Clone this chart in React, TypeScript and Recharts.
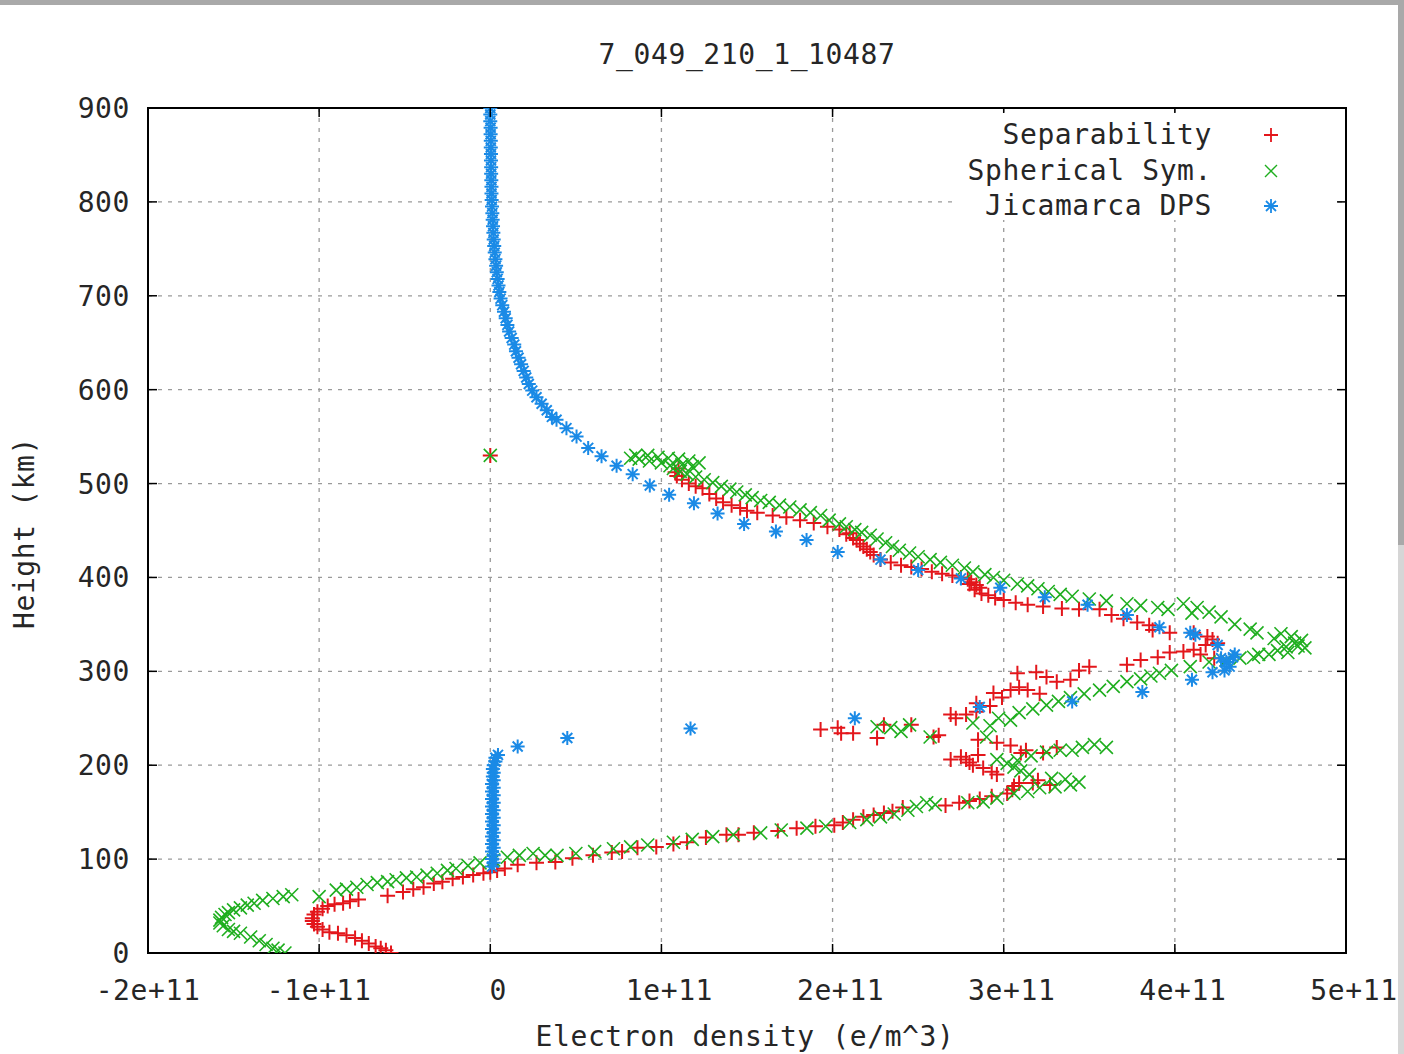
import React from 'react';
import {
  CartesianGrid,
  Legend,
  ReferenceArea,
  Scatter,
  ScatterChart,
  XAxis,
  YAxis,
} from 'recharts';

// electron density values are in units of 1e11 e/m^3, heights in km
const title = '7_049_210_1_10487';
const xLabel = 'Electron density (e/m^3)';
const yLabel = 'Height (km)';
const seriesNames = ['Separability', 'Spherical Sym.', 'Jicamarca DPS'];
const xTicks = [-2, -1, 0, 1, 2, 3, 4, 5];
const yTicks = [0, 100, 200, 300, 400, 500, 600, 700, 800, 900];

const separability: [number, number][] = [
  [-0.58, 0], [-0.61, 3], [-0.64, 5], [-0.67, 7], [-0.71, 10], [-0.75, 13], [-0.79, 16],
  [-0.84, 19], [-0.89, 21], [-0.94, 22], [-0.98, 25], [-1.01, 28], [-1.03, 31], [-1.04, 34],
  [-1.04, 37], [-1.03, 41], [-1.01, 44], [-0.98, 47], [-0.95, 50], [-0.91, 52], [-0.86, 53],
  [-0.82, 55], [-0.77, 57],
  [-0.6, 61], [-0.51, 65], [-0.45, 68], [-0.39, 70], [-0.33, 74], [-0.28, 76], [-0.22, 79],
  [-0.16, 81], [-0.1, 83], [-0.04, 85], [0.0, 86], [0.04, 88], [0.085, 90], [0.16, 94],
  [0.27, 96], [0.38, 97], [0.48, 101], [0.6, 104], [0.71, 107], [0.77, 108], [0.86, 112],
  [0.97, 113], [1.07, 116], [1.15, 118], [1.26, 123], [1.38, 126], [1.45, 126], [1.54, 128],
  [1.68, 130], [1.79, 133], [1.9, 135], [2.01, 136], [2.06, 139], [2.12, 142], [2.18, 145],
  [2.24, 147], [2.3, 149], [2.35, 151], [2.41, 155], [2.66, 157], [2.74, 160], [2.8, 162],
  [2.86, 164], [2.93, 167], [3.02, 170], [3.05, 174], [3.06, 178], [3.09, 181], [3.17, 181],
  [3.2, 184], [3.27, 179],
  [2.96, 190], [2.93, 193], [2.88, 197], [2.82, 200], [2.8, 203], [2.78, 206], [2.69, 206],
  [2.75, 209], [2.85, 211], [3.1, 213], [3.23, 213], [3.13, 216], [3.04, 221], [3.31, 219],
  [2.96, 224], [2.85, 227], [2.59, 230], [2.62, 232], [2.26, 229], [2.3, 243], [2.46, 243],
  [1.93, 238], [2.03, 240], [2.05, 234], [2.12, 234], [2.72, 250], [2.69, 254], [2.78, 254],
  [2.84, 257], [2.84, 266], [2.92, 263], [2.94, 277], [2.99, 272], [3.04, 280], [3.09, 283],
  [3.14, 280], [3.21, 276], [3.08, 298], [3.19, 299], [3.25, 294], [3.31, 289], [3.39, 291],
  [3.44, 301], [3.5, 305], [3.72, 307], [3.8, 312], [3.9, 315], [3.97, 320], [4.05, 321],
  [4.11, 323], [4.15, 318], [4.23, 314],
  [4.18, 328], [4.25, 330], [4.22, 334], [4.19, 337], [4.11, 341], [3.97, 341], [3.87, 344],
  [3.85, 349], [3.78, 352], [3.7, 356], [3.63, 360], [3.56, 366], [3.44, 366], [3.34, 367],
  [3.23, 369], [3.14, 371], [3.07, 373], [3.0, 376], [2.95, 378], [2.91, 381], [2.87, 383],
  [2.83, 387], [2.86, 389], [2.8, 393], [2.84, 392], [2.81, 395], [2.79, 398], [2.75, 400],
  [2.7, 402], [2.64, 404], [2.58, 406], [2.52, 409], [2.46, 411], [2.4, 413], [2.34, 416],
  [2.28, 419], [2.24, 424], [2.22, 427], [2.2, 430], [2.18, 433], [2.16, 436], [2.14, 440],
  [2.12, 442], [2.1, 447], [2.08, 446], [2.04, 451], [1.97, 454], [1.89, 458], [1.81, 461],
  [1.73, 464], [1.65, 466], [1.56, 469], [1.5, 471], [1.46, 474], [1.41, 477], [1.36, 480],
  [1.32, 484], [1.28, 489], [1.24, 495], [1.2, 497], [1.16, 500], [1.12, 504], [1.09, 508],
  [1.08, 512], [1.1, 516],
  [0.0, 530],
];

const spherical: [number, number][] = [
  [-1.2, 0], [-1.24, 3], [-1.27, 5], [-1.31, 9], [-1.35, 13], [-1.4, 17], [-1.46, 21],
  [-1.5, 23], [-1.53, 25], [-1.56, 29], [-1.58, 32], [-1.58, 35], [-1.57, 38], [-1.55, 41],
  [-1.53, 43], [-1.5, 46], [-1.46, 48], [-1.42, 51], [-1.38, 53], [-1.33, 56], [-1.27, 58],
  [-1.21, 60], [-1.16, 62],
  [-1.0, 60],
  [-0.9, 67], [-0.84, 68], [-0.78, 70], [-0.72, 73], [-0.66, 75], [-0.6, 76], [-0.55, 78],
  [-0.49, 80], [-0.43, 81], [-0.37, 83], [-0.31, 85], [-0.25, 88], [-0.2, 90], [-0.13, 93],
  [-0.06, 96], [0.02, 99], [0.1, 102], [0.17, 104], [0.25, 106], [0.32, 104], [0.39, 104],
  [0.5, 106], [0.61, 108], [0.72, 111], [0.82, 113], [0.92, 115], [1.07, 118], [1.18, 121],
  [1.3, 124], [1.42, 126], [1.58, 128], [1.7, 131], [1.85, 133], [1.96, 135], [2.1, 139],
  [2.2, 142], [2.28, 145], [2.36, 148], [2.44, 152], [2.49, 156], [2.55, 160], [2.6, 158],
  [2.79, 160], [2.88, 161], [2.96, 165], [3.06, 170], [3.14, 172], [3.21, 176], [3.3, 177],
  [3.39, 179], [3.44, 182], [3.36, 185], [3.28, 186],
  [3.15, 190], [3.1, 194], [3.06, 198], [3.02, 202], [2.96, 206], [3.08, 205], [3.16, 210],
  [3.25, 214], [3.33, 216], [3.4, 216], [3.46, 219], [3.6, 219], [3.53, 222], [2.9, 230],
  [2.57, 230], [2.34, 240], [2.4, 236], [2.26, 241], [2.45, 243], [2.82, 245], [2.92, 242],
  [2.97, 250], [3.04, 248], [3.09, 256], [3.17, 260], [3.25, 264], [3.32, 268], [3.39, 272],
  [3.47, 276], [3.56, 280], [3.64, 284], [3.72, 289], [3.8, 292], [3.86, 295], [3.91, 298],
  [3.98, 301], [4.09, 305], [4.2, 310], [4.3, 312], [4.38, 314], [4.46, 315], [4.49, 318],
  [4.55, 318], [4.6, 322], [4.65, 326], [4.7, 330], [4.74, 333], [4.72, 327], [4.68, 337],
  [4.62, 340], [4.58, 335], [4.66, 320], [4.76, 325], [4.48, 341], [4.44, 345], [4.35, 350],
  [4.27, 358], [4.2, 363], [4.13, 368], [4.05, 372], [4.1, 362], [3.96, 366], [3.9, 368],
  [3.8, 370], [3.72, 372], [3.6, 375], [3.5, 377], [3.4, 380], [3.33, 382], [3.26, 385],
  [3.2, 388], [3.14, 391], [3.08, 393], [3.0, 397], [2.94, 400], [2.89, 403], [2.82, 406],
  [2.77, 410], [2.7, 413], [2.63, 416], [2.57, 419], [2.5, 422], [2.45, 426], [2.39, 429],
  [2.35, 433], [2.31, 437], [2.26, 441], [2.22, 445], [2.17, 448], [2.13, 451], [2.08, 454],
  [2.04, 457], [1.98, 461], [1.93, 466], [1.87, 469], [1.81, 472], [1.75, 475], [1.69, 477],
  [1.63, 480], [1.58, 482], [1.53, 485], [1.49, 488], [1.44, 491], [1.4, 494], [1.35, 497],
  [1.3, 501], [1.25, 504], [1.2, 507], [1.15, 510], [1.11, 513], [1.07, 516], [1.05, 519],
  [1.0, 522], [0.93, 524], [0.87, 526], [0.82, 527], [0.85, 530], [0.92, 530], [0.98, 528],
  [1.04, 527], [1.1, 526], [1.16, 524], [1.22, 522], [1.18, 518], [1.12, 520],
  [0.0, 530],
];

const jicamarca: [number, number][] = [
  [0.0, 900], [0.0, 893], [0.0, 886], [0.002, 879], [0.002, 872], [0.003, 865], [0.003, 858],
  [0.004, 851], [0.004, 844], [0.005, 837], [0.005, 830], [0.006, 823], [0.007, 816],
  [0.007, 809], [0.008, 802], [0.01, 795], [0.012, 788], [0.014, 781], [0.016, 774],
  [0.018, 767], [0.02, 760], [0.023, 753], [0.026, 746], [0.03, 739], [0.034, 732],
  [0.038, 725], [0.043, 718], [0.048, 711], [0.053, 704], [0.06, 697], [0.07, 690],
  [0.08, 683], [0.09, 676], [0.1, 669], [0.11, 662], [0.125, 655], [0.14, 648], [0.15, 641],
  [0.165, 634], [0.18, 627], [0.195, 620], [0.21, 613], [0.225, 606], [0.245, 599],
  [0.27, 592], [0.3, 585], [0.33, 578], [0.36, 571], [0.387, 568], [0.445, 559], [0.504, 550],
  [0.572, 538], [0.65, 529], [0.738, 519], [0.832, 510], [0.932, 498], [1.045, 488],
  [1.19, 479], [1.328, 468], [1.483, 457], [1.669, 449], [1.848, 440], [2.03, 427],
  [2.28, 419], [2.5, 408], [2.75, 399], [2.98, 389], [3.24, 379], [3.49, 371], [3.72, 360],
  [3.91, 347], [4.09, 341], [4.12, 339], [4.25, 328], [4.34, 315], [4.3, 310], [4.35, 318],
  [4.27, 314], [4.32, 305], [4.29, 301], [4.22, 299], [4.1, 291], [3.81, 278], [3.4, 268],
  [2.86, 262], [2.13, 250], [1.17, 239], [0.45, 229], [0.16, 220], [0.045, 211],
  [0.03, 208], [0.03, 204], [0.02, 200], [0.015, 196], [0.02, 192], [0.015, 188], [0.02, 184],
  [0.01, 180], [0.02, 176], [0.01, 172], [0.02, 168], [0.01, 164], [0.02, 160], [0.01, 156],
  [0.02, 152], [0.01, 148], [0.02, 144], [0.01, 140], [0.02, 136], [0.01, 132], [0.02, 128],
  [0.01, 124], [0.02, 120], [0.01, 116], [0.02, 112], [0.01, 108], [0.02, 104], [0.01, 100],
  [0.02, 96], [0.01, 92],
];

const SCALE = 1e11;
const RED = '#e3161b';
const GREEN = '#1fae1f';
const BLUE = '#1a8ae6';
const FONT = '"DejaVu Sans Mono", monospace';
const PLOT_W = 1198;
const PLOT_H = 845;
const TICK = 9;

const toRows = (pts: [number, number][]) => pts.map(([x, h]) => ({ x: x * SCALE, h }));

const fmtX = (v: number) => (v === 0 ? '0' : `${Math.round(v / SCALE)}e+11`);

const textStyle = { fontFamily: FONT, fontSize: 28, letterSpacing: 0.6, fill: '#262626' };

const htmlText = {
  position: 'absolute' as const,
  fontFamily: FONT,
  fontSize: 28,
  lineHeight: '28px',
  letterSpacing: 0.6,
  color: '#262626',
  whiteSpace: 'nowrap' as const,
};

const PlusMark = ({ cx, cy }: any) => (
  <path d={`M${cx - 7.5},${cy}h15M${cx},${cy - 7.5}v15`} stroke={RED} strokeWidth={2} fill="none" />
);

const CrossMark = ({ cx, cy }: any) => (
  <path
    d={`M${cx - 6.5},${cy - 6.5}l13,13M${cx - 6.5},${cy + 6.5}l13,-13`}
    stroke={GREEN}
    strokeWidth={1.6}
    fill="none"
  />
);

const StarMark = ({ cx, cy }: any) => (
  <path
    d={`M${cx - 7},${cy}h14M${cx},${cy - 7}v14M${cx - 5},${cy - 5}l10,10M${cx - 5},${cy + 5}l10,-10`}
    stroke={BLUE}
    strokeWidth={2}
    fill="none"
  />
);

const XTick = (props: any) => {
  const { x, y, payload } = props;
  const v = payload.value;
  return (
    <g>
      <line x1={x} y1={y} x2={x} y2={y - TICK} stroke="#000" strokeWidth={1.5} />
      <line x1={x} y1={y - PLOT_H} x2={x} y2={y - PLOT_H + TICK} stroke="#000" strokeWidth={1.5} />
      <text x={x + (v >= 0 ? 8 : 0)} y={y + 47} textAnchor="middle" style={textStyle}>
        {fmtX(v)}
      </text>
    </g>
  );
};

const YTick = (props: any) => {
  const { x, y, payload } = props;
  return (
    <g>
      <line x1={x} y1={y} x2={x + TICK} y2={y} stroke="#000" strokeWidth={1.5} />
      <line x1={x + PLOT_W} y1={y} x2={x + PLOT_W - TICK} y2={y} stroke="#000" strokeWidth={1.5} />
      <text x={x - 18} y={y + 10} textAnchor="end" style={textStyle}>
        {payload.value}
      </text>
    </g>
  );
};

const legendMarks = [
  <path key="r" d="M1,8h14M8,1v14" stroke={RED} strokeWidth={1.8} fill="none" />,
  <path key="g" d="M2,2l12,12M2,14l12,-12" stroke={GREEN} strokeWidth={1.4} fill="none" />,
  <path key="b" d="M1,8h14M8,1v14M3,3l10,10M3,13l10,-10" stroke={BLUE} strokeWidth={1.8} fill="none" />,
];

const LegendBox = () => (
  <div style={{ position: 'relative', width: 380, height: 107, background: '#fff' }}>
    {seriesNames.map((name, i) => (
      <React.Fragment key={name}>
        <div style={{ ...htmlText, right: 380 - 257, top: 22 + i * 35.5 - 14 }}>{name}</div>
        <svg
          width={16}
          height={16}
          style={{ position: 'absolute', left: 316 - 8, top: 22 + i * 35.5 - 8 }}
        >
          {legendMarks[i]}
        </svg>
      </React.Fragment>
    ))}
  </div>
);

export default function App() {
  return (
    <div
      style={{
        position: 'absolute',
        left: 0,
        top: 0,
        width: 1404,
        height: 1054,
        background: '#fff',
        overflow: 'hidden',
      }}
    >
      <ScatterChart width={1404} height={1054} margin={{ top: 108, right: 58, left: 88, bottom: 51 }}>
        <CartesianGrid stroke="#9a9a9a" strokeWidth={1.3} strokeDasharray="4 6" />
        <XAxis
          type="number"
          dataKey="x"
          domain={[-2 * SCALE, 5 * SCALE]}
          ticks={xTicks.map((t) => t * SCALE)}
          allowDataOverflow
          interval={0}
          height={50}
          axisLine={false}
          tickLine={false}
          tickSize={0}
          tickMargin={0}
          tick={<XTick />}
        />
        <YAxis
          type="number"
          dataKey="h"
          domain={[0, 900]}
          ticks={yTicks}
          allowDataOverflow
          interval={0}
          width={60}
          axisLine={false}
          tickLine={false}
          tickSize={0}
          tickMargin={0}
          tick={<YTick />}
        />
        <Legend
          layout="vertical"
          align="center"
          verticalAlign="middle"
          content={<LegendBox />}
          wrapperStyle={{ position: 'absolute', left: 955, top: 113, width: 380, height: 107 }}
        />
        <Scatter name={seriesNames[0]} data={toRows(separability)} shape={<PlusMark />} isAnimationActive={false} />
        <Scatter name={seriesNames[1]} data={toRows(spherical)} shape={<CrossMark />} isAnimationActive={false} />
        <Scatter name={seriesNames[2]} data={toRows(jicamarca)} shape={<StarMark />} isAnimationActive={false} />
        <ReferenceArea
          x1={-2 * SCALE}
          x2={5 * SCALE}
          y1={0}
          y2={900}
          fill="none"
          stroke="#000"
          strokeWidth={2}
        />
      </ScatterChart>
      <div style={{ ...htmlText, left: 747, top: 55, transform: 'translate(-50%, -50%)' }}>{title}</div>
      <div style={{ ...htmlText, left: 745, top: 1037, transform: 'translate(-50%, -50%)' }}>{xLabel}</div>
      <div
        style={{ ...htmlText, left: 25, top: 533, transform: 'translate(-50%, -50%) rotate(-90deg)' }}
      >
        {yLabel}
      </div>
      <div style={{ position: 'absolute', left: 0, top: 0, width: 1404, height: 5, background: '#a9a9a9' }} />
      <div style={{ position: 'absolute', left: 1398, top: 0, width: 6, height: 545, background: '#a9a9a9' }} />
      <div style={{ position: 'absolute', left: 1398, top: 545, width: 6, height: 509, background: '#d6d6d6' }} />
    </div>
  );
}
